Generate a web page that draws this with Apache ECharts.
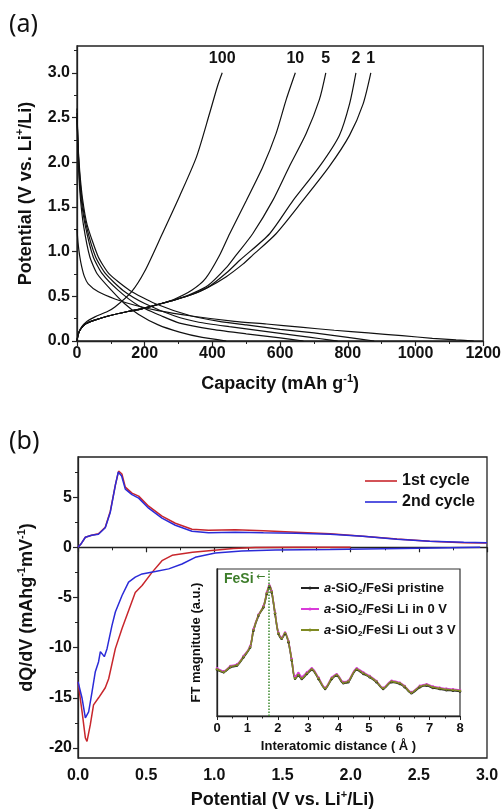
<!DOCTYPE html>
<html>
<head>
<meta charset="utf-8">
<style>
html,body{margin:0;padding:0;background:#fff;}
#container{width:504px;height:812px;}
</style>
<script src="https://cdn.jsdelivr.net/npm/echarts/dist/echarts.min.js"></script>
</head>
<body>
<div id="container"></div>
<script>
// (a) galvanostatic profiles, points are [capacity mAh/g, potential V]
var chg1 = [[0,0],[4,0.08],[12,0.14],[25,0.19],[50,0.23],[92,0.28],[150,0.33],[191,0.36],[250,0.42],[289,0.46],[340,0.52],[387,0.6],[441,0.72],[490,0.86],[519,0.96],[588,1.2],[667,1.57],[745,1.95],[805,2.3],[845,2.65],[868,3.0]];
var chg2 = [[0,0],[4,0.08],[12,0.14],[25,0.19],[50,0.23],[92,0.28],[150,0.33],[191,0.36],[250,0.42],[289,0.46],[340,0.52],[387,0.6],[441,0.76],[480,0.9],[569,1.2],[638,1.57],[716,1.95],[775,2.3],[805,2.65],[824,3.0]];
var chg5 = [[0,0],[4,0.08],[12,0.14],[25,0.19],[50,0.23],[92,0.28],[150,0.33],[191,0.36],[250,0.42],[289,0.46],[340,0.53],[387,0.62],[441,0.82],[470,0.96],[519,1.2],[578,1.57],[627,1.95],[677,2.32],[716,2.7],[735,3.0]];
var chg10 = [[0,0],[4,0.08],[12,0.14],[25,0.19],[50,0.23],[92,0.28],[150,0.33],[191,0.36],[250,0.42],[289,0.47],[340,0.57],[380,0.7],[420,0.95],[451,1.2],[500,1.57],[549,1.95],[588,2.32],[618,2.7],[645,3.0]];
var chg100 = [[0,0],[4,0.08],[12,0.15],[30,0.22],[53,0.27],[90,0.33],[112,0.38],[161,0.55],[200,0.78],[252,1.2],[303,1.62],[353,2.06],[392,2.55],[415,2.85],[429,3.0]];

var dis1 = [[0,1.25],[3,1.1],[8,0.95],[14,0.83],[22,0.72],[33,0.64],[63,0.55],[112,0.47],[171,0.40],[240,0.34],[338,0.28],[465,0.22],[560,0.19],[660,0.155],[760,0.12],[860,0.09],[960,0.06],[1050,0.03],[1120,0.012],[1172,0]];
var dis2 = [[0,2.6],[3,2.2],[8,1.9],[16,1.6],[30,1.3],[63,0.94],[95,0.75],[156,0.566],[230,0.42],[338,0.28],[420,0.22],[500,0.18],[600,0.13],[700,0.09],[800,0.04],[878,0]];
var dis5 = [[0,2.55],[3,2.2],[7,1.9],[14,1.6],[27,1.3],[55,0.94],[85,0.75],[136,0.566],[200,0.42],[289,0.28],[360,0.21],[450,0.16],[550,0.11],[650,0.06],[720,0.025],[770,0]];
var dis10 = [[0,2.5],[3,2.2],[6,1.9],[12,1.6],[24,1.3],[48,0.94],[75,0.75],[122,0.566],[180,0.40],[250,0.28],[303,0.2],[400,0.13],[500,0.08],[600,0.035],[669,0]];
var dis100 = [[0,2.5],[2,2.2],[5,1.9],[10,1.6],[19,1.3],[38,0.94],[60,0.75],[102,0.566],[140,0.42],[181,0.30],[240,0.18],[303,0.1],[370,0.04],[441,0]];

var cycleLabels = ['1', '2', '5', '10', '100'];

// (b) differential capacity, [potential V, dQ/dV]
var up1st = [[0,0],[0.02,0.3],[0.054,1.0],[0.1,1.2],[0.15,1.35],[0.2,2.0],[0.237,3.6],[0.274,6.2],[0.298,7.6],[0.322,7.3],[0.347,6.0],[0.396,5.4],[0.445,5.1],[0.518,4.1],[0.616,3.1],[0.714,2.4],[0.836,1.8],[0.958,1.7],[1.154,1.75],[1.36,1.65],[1.6,1.5],[1.85,1.35],[2.09,1.1],[2.34,0.82],[2.58,0.6],[2.83,0.45],[3.0,0.42]];
var up2nd = [[0,0],[0.02,0.3],[0.054,1.0],[0.1,1.2],[0.15,1.3],[0.2,1.95],[0.237,3.5],[0.274,6.2],[0.295,7.5],[0.32,7.1],[0.347,5.8],[0.396,5.25],[0.445,4.9],[0.518,3.9],[0.616,2.9],[0.714,2.2],[0.836,1.6],[0.958,1.45],[1.154,1.5],[1.36,1.45],[1.6,1.4],[1.85,1.3],[2.09,1.1],[2.34,0.8],[2.58,0.6],[2.83,0.5],[3.0,0.45]];
var down1st = [[0,-13.4],[0.03,-16.4],[0.054,-19.0],[0.066,-19.35],[0.09,-17.7],[0.114,-15.7],[0.151,-15.0],[0.2,-14.0],[0.225,-13.1],[0.274,-10.1],[0.323,-8.1],[0.42,-4.5],[0.47,-3.8],[0.543,-2.5],[0.616,-1.33],[0.69,-0.8],[0.84,-0.5],[1.0,-0.3],[1.14,-0.12],[1.3,-0.02],[1.6,0.0],[2.0,0.0]];
var down2nd = [[0,-13.4],[0.03,-15.05],[0.054,-17.0],[0.078,-16.4],[0.103,-14.4],[0.127,-12.4],[0.151,-11.4],[0.164,-10.4],[0.176,-10.6],[0.193,-10.9],[0.213,-10.1],[0.249,-7.8],[0.274,-6.45],[0.323,-4.8],[0.371,-3.47],[0.42,-2.98],[0.47,-2.65],[0.567,-2.42],[0.665,-2.15],[0.763,-1.66],[0.86,-1.0],[1.007,-0.56],[1.2,-0.37],[1.447,-0.27],[1.85,-0.22],[2.5,-0.1],[2.95,0.0]];

// inset: EXAFS FT magnitude
var insetR = [0,0.22,0.44,0.66,0.875,1.09,1.2,1.37,1.53,1.64,1.72,1.8,1.91,2.02,2.13,2.24,2.35,2.46,2.57,2.68,2.79,2.96,3.12,3.34,3.56,3.78,3.94,4.16,4.32,4.6,4.82,5.03,5.25,5.47,5.75,6.02,6.18,6.4,6.68,6.9,7.11,7.33,7.55,7.77,8.0];
var ftPristine = [0.314,0.297,0.331,0.343,0.399,0.466,0.58,0.683,0.74,0.83,0.878,0.84,0.695,0.559,0.525,0.558,0.502,0.377,0.253,0.275,0.252,0.286,0.314,0.252,0.184,0.252,0.275,0.223,0.23,0.314,0.286,0.263,0.23,0.184,0.23,0.218,0.196,0.155,0.196,0.206,0.19,0.183,0.176,0.172,0.167];
var ftLiIn = [0.325,0.305,0.34,0.352,0.408,0.475,0.59,0.69,0.748,0.84,0.89,0.85,0.703,0.568,0.533,0.568,0.51,0.387,0.268,0.292,0.266,0.297,0.324,0.262,0.193,0.262,0.284,0.232,0.239,0.325,0.296,0.272,0.238,0.192,0.239,0.227,0.204,0.163,0.205,0.216,0.2,0.193,0.186,0.182,0.177];
var ftLiOut = [0.318,0.30,0.335,0.347,0.403,0.47,0.585,0.687,0.744,0.835,0.884,0.846,0.699,0.563,0.529,0.563,0.506,0.381,0.256,0.279,0.256,0.29,0.318,0.256,0.188,0.256,0.279,0.227,0.234,0.318,0.29,0.267,0.234,0.188,0.234,0.222,0.2,0.159,0.2,0.211,0.195,0.188,0.181,0.177,0.172];
var fesiPeak = 1.72;

var FONT = '"Liberation Sans", Arial, sans-serif';
var dom = document.getElementById('container');
var myChart = echarts.init(dom, null, {renderer: 'canvas', useDirtyRect: false});

var supRich = {
    sup: {fontSize: 11, fontWeight: 'bold', fontFamily: FONT, color: '#111', verticalAlign: 'top', lineHeight: 12}
};
function nameStyle(size) {
    return {fontSize: size, fontWeight: 'bold', fontFamily: FONT, color: '#111', lineHeight: size + 4, rich: supRich};
}
function labelStyle(size, margin, fmt) {
    return {fontSize: size, fontWeight: 'bold', fontFamily: FONT, color: '#111', margin: margin, formatter: fmt};
}
function plain(v) { return String(v); }
var lineAx = {show: true, lineStyle: {color: '#222', width: 1.3}};
var tickOut = {show: true, inside: false, length: 5, lineStyle: {color: '#222', width: 1.2}};
var minorOut = {show: true, splitNumber: 2, length: 3, lineStyle: {color: '#222', width: 1}};

function zip(xs, ys) {
    return xs.map(function (x, i) { return [x, ys[i]]; });
}

var chargeSets = [chg1, chg2, chg5, chg10, chg100];
var dischargeSets = [dis1, dis2, dis5, dis10, dis100];
var series = [];
dischargeSets.forEach(function (d, i) {
    series.push({
        name: 'dis' + cycleLabels[i], type: 'line', xAxisIndex: 0, yAxisIndex: 0,
        data: d, smooth: 0.2, showSymbol: false, symbol: 'none',
        lineStyle: {color: '#111', width: 1.2}
    });
});
chargeSets.forEach(function (d, i) {
    var last = d[d.length - 1];
    series.push({
        name: 'chg' + cycleLabels[i], type: 'line', xAxisIndex: 0, yAxisIndex: 0,
        data: d, smooth: 0.25, showSymbol: false, symbol: 'none',
        lineStyle: {color: '#111', width: 1.2},
        markPoint: {
            symbol: 'circle', symbolSize: 1, itemStyle: {color: 'rgba(0,0,0,0)'},
            label: {show: true, position: 'inside', formatter: '{b}', fontSize: 16, fontWeight: 'bold', fontFamily: FONT, color: '#111'},
            data: [{name: cycleLabels[i], coord: [last[0], 3.16]}]
        }
    });
});

[['1st cycle', up1st, '#c8262c'], ['1st cycle', down1st, '#c8262c'],
 ['2nd cycle', up2nd, '#2b2bd8'], ['2nd cycle', down2nd, '#2b2bd8']].forEach(function (s) {
    series.push({
        name: s[0], type: 'line', xAxisIndex: 1, yAxisIndex: 2,
        data: s[1], showSymbol: false, symbol: 'none',
        lineStyle: {color: s[2], width: 1.5}, itemStyle: {color: s[2]}
    });
});

[['pristine', ftPristine, '#222222'], ['Li in 0 V', ftLiIn, '#d93ad9'], ['Li out 3 V', ftLiOut, '#7f8a22']].forEach(function (s, k) {
    var ser = {
        name: s[0], type: 'line', xAxisIndex: 2, yAxisIndex: 4,
        data: zip(insetR, s[1]), smooth: 0.3,
        symbol: 'circle', symbolSize: 2.5, showSymbol: true,
        lineStyle: {color: s[2], width: 1.6}, itemStyle: {color: s[2]}
    };
    if (k === 2) {
        ser.markLine = {
            silent: true, symbol: ['none', 'none'], label: {show: false},
            lineStyle: {color: '#3d8a2e', type: 'dotted', width: 1.5},
            data: [{xAxis: fesiPeak}]
        };
    }
    series.push(ser);
});

var option = {
    animation: false,
    backgroundColor: '#fff',
    grid: [
        {left: 77, top: 46, width: 407, height: 295, show: true, borderColor: '#222', borderWidth: 1.3},
        {left: 78, top: 457, width: 409, height: 303, show: true, borderColor: '#222', borderWidth: 1.3},
        {left: 217, top: 569, width: 243, height: 147, show: true, borderColor: '#333', borderWidth: 1.2, backgroundColor: '#fff'}
    ],
    xAxis: [
        {gridIndex: 0, type: 'value', min: 0, max: 1200, interval: 200,
         axisLine: lineAx, axisTick: tickOut, minorTick: minorOut, splitLine: {show: false},
         axisLabel: labelStyle(16, 5, plain),
         name: 'Capacity (mAh g{sup|-1})', nameLocation: 'middle', nameGap: 32, nameTextStyle: nameStyle(18)},
        {gridIndex: 1, type: 'value', min: 0, max: 3, interval: 0.5,
         axisLine: lineAx, axisTick: tickOut, minorTick: minorOut, splitLine: {show: false},
         axisLabel: labelStyle(16, 10, function (v) { return v.toFixed(1); }),
         name: 'Potential (V vs. Li{sup|+}/Li)', nameLocation: 'middle', nameGap: 31, nameTextStyle: nameStyle(18)},
        {gridIndex: 2, type: 'value', min: 0, max: 8, interval: 1,
         axisLine: lineAx, axisTick: {show: true, length: 4, lineStyle: {color: '#222'}},
         minorTick: {show: true, splitNumber: 2, length: 2.5, lineStyle: {color: '#222'}}, splitLine: {show: false},
         axisLabel: labelStyle(13, 6, plain),
         name: 'Interatomic distance ( Å )', nameLocation: 'middle', nameGap: 22, nameTextStyle: nameStyle(13)}
    ],
    yAxis: [
        {gridIndex: 0, type: 'value', min: 0, max: 3.3, position: 'left',
         axisLine: lineAx, splitLine: {show: false},
         axisTick: {show: true, inside: false, length: 5, lineStyle: {color: '#222', width: 1.2}, customValues: [0, 0.5, 1, 1.5, 2, 2.5, 3]},
         axisLabel: {fontSize: 16, fontWeight: 'bold', fontFamily: FONT, color: '#111', margin: 7,
                     customValues: [0, 0.5, 1, 1.5, 2, 2.5, 3], formatter: function (v) { return v.toFixed(1); }},
         name: 'Potential (V vs. Li{sup|+}/Li)', nameLocation: 'middle', nameGap: 38, nameRotate: 90, nameTextStyle: nameStyle(18)},
        {gridIndex: 0, type: 'value', min: 0, max: 3.3, position: 'left',
         axisLine: {show: false}, splitLine: {show: false}, axisLabel: {show: false},
         axisTick: {show: true, inside: false, length: 3, lineStyle: {color: '#222', width: 1}, customValues: [0.25, 0.75, 1.25, 1.75, 2.25, 2.75, 3.25]}},
        {gridIndex: 1, type: 'value', min: -21, max: 9, position: 'left',
         axisLine: lineAx, splitLine: {show: false},
         axisTick: {show: true, inside: false, length: 5, lineStyle: {color: '#222', width: 1.2}, customValues: [-20, -15, -10, -5, 0, 5]},
         axisLabel: {fontSize: 16, fontWeight: 'bold', fontFamily: FONT, color: '#111', margin: 6,
                     customValues: [-20, -15, -10, -5, 0, 5]},
         name: 'dQ/dV (mAhg{sup|-1}mV{sup|-1})', nameLocation: 'middle', nameGap: 33, nameRotate: 90, nameTextStyle: nameStyle(18)},
        {gridIndex: 1, type: 'value', min: -21, max: 9, position: 'left',
         axisLine: {show: false}, splitLine: {show: false}, axisLabel: {show: false},
         axisTick: {show: true, inside: false, length: 3, lineStyle: {color: '#222', width: 1}, customValues: [-17.5, -12.5, -7.5, -2.5, 2.5, 7.5]}},
        {gridIndex: 2, type: 'value', min: 0, max: 1, position: 'left',
         axisLine: lineAx, axisTick: {show: false}, axisLabel: {show: false}, splitLine: {show: false},
         name: 'FT magnitude (a.u.)', nameLocation: 'middle', nameGap: 12, nameRotate: 90, nameTextStyle: nameStyle(13)}
    ],
    legend: [
        {data: ['1st cycle', '2nd cycle'], orient: 'vertical', left: 360, top: 467,
         itemWidth: 32, itemHeight: 12, itemGap: 3, icon: 'path://M0,5 L32,5 L32,6.6 L0,6.6 Z',
         textStyle: {fontSize: 16, fontWeight: 'bold', fontFamily: FONT, color: '#111', lineHeight: 18}},
        {data: ['pristine', 'Li in 0 V', 'Li out 3 V'], orient: 'vertical', left: 295, top: 575,
         itemWidth: 18, itemHeight: 4, itemGap: 5,
         formatter: function (name) { return '{i|a}-SiO{s|2}/FeSi ' + name; },
         textStyle: {fontSize: 13, fontWeight: 'bold', fontFamily: FONT, color: '#111', lineHeight: 16,
                     rich: {i: {fontSize: 13, fontStyle: 'italic', fontWeight: 'bold', fontFamily: FONT, color: '#111'},
                            s: {fontSize: 8, fontWeight: 'bold', fontFamily: FONT, color: '#111', verticalAlign: 'bottom', lineHeight: 8}}}}
    ],
    graphic: [
        {type: 'text', left: 9, top: 12, style: {text: '(a)', fontSize: 25, fontFamily: '"Noto Sans", sans-serif', fill: '#111'}},
        {type: 'text', left: 9, top: 429, style: {text: '(b)', fontSize: 25, fontFamily: '"Noto Sans", sans-serif', fill: '#111'}},
        {type: 'text', left: 224, top: 572, style: {text: 'FeSi', fontSize: 14, fontWeight: 'bold', fontFamily: FONT, fill: '#3d7d2a'}},
        {type: 'text', left: 256, top: 572, style: {text: '←', fontSize: 11, fontFamily: '"DejaVu Sans", sans-serif', fill: '#3d7d2a'}}
    ],
    series: series
};

myChart.setOption(option);
window.addEventListener('resize', function () {
    myChart.resize();
});
</script>
</body>
</html>
